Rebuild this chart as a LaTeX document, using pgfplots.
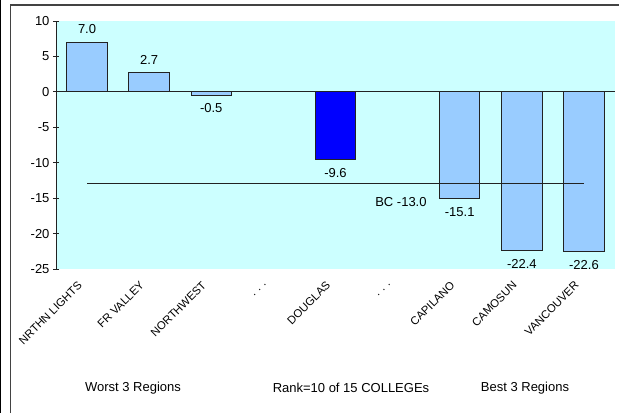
\documentclass[border=0pt]{standalone}
\usepackage{pgfplots}
\pgfplotsset{compat=1.18}
\usepackage{fontspec}
\setmainfont{Liberation Sans}
\definecolor{bgc}{HTML}{CCFFFF}
\definecolor{lb}{HTML}{99CCFF}
\definecolor{db}{HTML}{0000FF}
\definecolor{edge}{HTML}{222222}
\newcommand{\fs}{\fontsize{13}{15}\selectfont}
\newcommand{\fr}{\fontsize{11.3}{13}\selectfont}
\begin{document}
\begin{tikzpicture}
\useasboundingbox (0,0) rectangle (619pt,-413pt);
\draw[black, line width=1pt] (0.5pt,0) -- (0.5pt,-413pt);
\draw[edge!85, line width=1.2pt] (10.5pt,-413pt) -- (10.5pt,-5pt) -- (619pt,-5pt);
\begin{axis}[at={(56pt,-21pt)}, anchor=north west, scale only axis,
  width=559pt, height=248pt,
  xmin=-0.5, xmax=8.5, ymin=-25, ymax=10,
  axis background/.style={fill=bgc},
  axis x line*=bottom, axis y line*=left,
  x axis line style={draw=none},
  y axis line style={edge, line width=0.8pt},
  /pgf/number format/assume math mode=true,
  xtick={0,...,8},
  xticklabels={NRTHN LIGHTS, FR VALLEY, NORTHWEST, {. . .}, DOUGLAS, {. . .}, CAPILANO, CAMOSUN, VANCOUVER},
  x tick style={draw=none},
  xticklabel style={font=\fr, rotate=45, anchor=east, inner sep=1pt, xshift=-12pt, yshift=-3pt},
  ytick={-25,-20,...,10},
  y tick style={edge, line width=0.8pt},
  major tick length=6pt, tick align=center,
  yticklabel style={font=\fs},
  clip=false,
]
\addplot[ybar, bar width=0.65, bar shift=0pt, fill=lb, draw=edge, line width=1pt,
  nodes near coords={\pgfmathprintnumber[fixed,fixed zerofill,precision=1]{\pgfplotspointmeta}},
  nodes near coords align=vertical,
  every node near coord/.append style={font=\fs, text=black, inner sep=8pt}]
  coordinates {(0,7.0) (1,2.7) (2,-0.5) (6,-15.1) (7,-22.4) (8,-22.6)};
\addplot[ybar, bar width=0.65, bar shift=0pt, fill=db, draw=edge, line width=1pt,
  nodes near coords={\pgfmathprintnumber[fixed,fixed zerofill,precision=1]{\pgfplotspointmeta}},
  nodes near coords align=vertical,
  every node near coord/.append style={font=\fs, text=black, inner sep=8pt}]
  coordinates {(4,-9.6)};
\addplot[edge, line width=1pt, mark=none] coordinates {(0,-13) (8,-13)};
\draw[edge, line width=0.8pt] (axis cs:-0.5,0) -- (axis cs:8.5,0);
\pgfplotsinvokeforeach{0.5,1.5,2.5,3.5,4.5,5.5,6.5,7.5,8.5}{
  \draw[edge, line width=0.8pt] (axis cs:#1,0) ++(0,3pt) -- ++(0,-6pt);
}
\node[font=\fs, anchor=east, inner sep=0pt] at (axis cs:5.47,-15.6) {BC -13.0};
\end{axis}
\node[font=\fs] at (133pt,-388pt) {Worst 3 Regions};
\node[font=\fs] at (351pt,-388pt) {Rank=10 of 15 COLLEGEs};
\node[font=\fs] at (525pt,-388pt) {Best 3 Regions};
\end{tikzpicture}
\end{document}
